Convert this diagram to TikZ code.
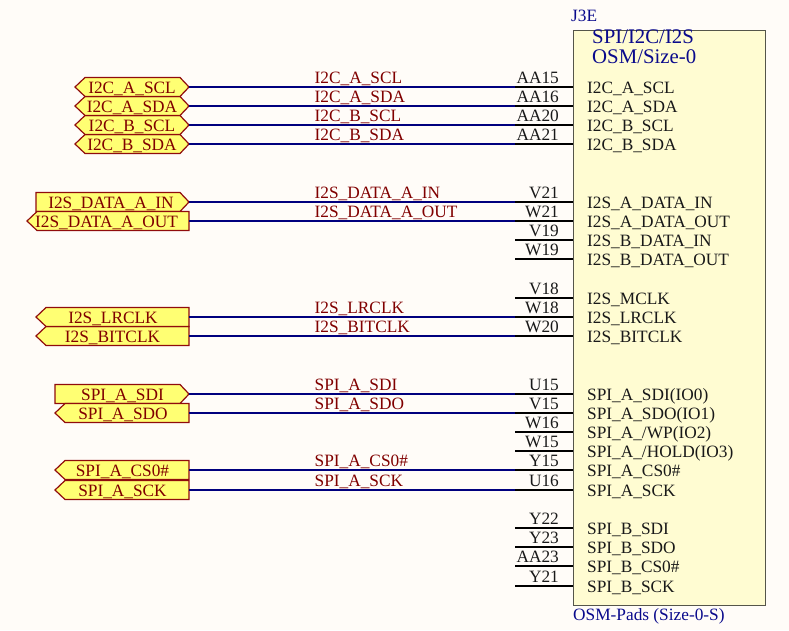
\documentclass[tikz,border=0pt]{standalone}
\usepackage{fontspec}
\setmainfont{Liberation Serif}
\definecolor{bgc}{HTML}{FFFCF8}
\definecolor{boxfill}{HTML}{FFFCD2}
\definecolor{boxline}{HTML}{55554A}
\definecolor{wirec}{HTML}{00007E}
\definecolor{netc}{HTML}{800000}
\definecolor{portfill}{HTML}{FFFF73}
\definecolor{portline}{HTML}{900C0C}
\definecolor{titlec}{HTML}{0A0A8C}
\tikzset{
  wire/.style={draw=wirec,line width=2pt},
  pinline/.style={draw=black,line width=2pt},
  netlabel/.style={text=netc,font=\fontsize{17.3}{17.3}\selectfont,anchor=base west,inner sep=0pt},
  pinnum/.style={text=black!90,font=\fontsize{17.3}{17.3}\selectfont,anchor=base east,inner sep=0pt},
  pinname/.style={text=black!90,font=\fontsize{17.3}{17.3}\selectfont,anchor=base west,inner sep=0pt},
  portshape/.style={draw=portline,fill=portfill,line width=1.2pt,line join=miter},
  porttext/.style={text=netc,font=\fontsize{17.3}{17.3}\selectfont,anchor=base,inner sep=0pt},
  titletext/.style={text=titlec,inner sep=0pt,anchor=base west},
}
% \pinrow{id}{y}{number}{pin name}
\newcommand{\pinrow}[4]{%
  \coordinate (pin#1) at (515,#2);
  \coordinate (body#1) at (573,#2);
  \draw[pinline] (pin#1) -- (body#1);
  \node[pinnum] (num#1) at (559,#2-4) {#3};
  \node[pinname] (name#1) at (587,#2+6.3) {#4};
}
% \netrow{id}{y}{label}{port left}{shape: 0 hex,1 flat-left tip-right,2 tip-left flat-right}{text x}
\newcommand{\netrow}[6]{%
  \coordinate (port#1) at (189,#2);
  \ifcase#5\relax
    \draw[portshape] (#4,#2) -- (#4+10,#2-9.5) -- (180,#2-9.5) -- (189,#2) -- (180,#2+9.5) -- (#4+10,#2+9.5) -- cycle;
  \or
    \draw[portshape] (#4,#2-9.5) -- (180,#2-9.5) -- (189,#2) -- (180,#2+9.5) -- (#4,#2+9.5) -- cycle;
  \or
    \draw[portshape] (#4,#2) -- (#4+10,#2-9.5) -- (189,#2-9.5) -- (189,#2+9.5) -- (#4+10,#2+9.5) -- cycle;
  \fi
  \node[porttext] (txt#1) at (#6,#2+6.3) {#3};
  \draw[wire] (port#1) -- (pin#1);
  \node[netlabel] (net#1) at (314.5,#2-4) {#3};
}
\begin{document}
\begin{tikzpicture}[x=1pt,y=-1pt]
\useasboundingbox (0,0) rectangle (789,630);
\fill[bgc] (0,0) rectangle (789,630);
\node[titletext,font=\fontsize{17.3}{17.3}\selectfont] (ref) at (571,21.5) {J3E};
\node[draw=boxline,fill=boxfill,line width=1.4pt,minimum width=192pt,minimum height=575pt,inner sep=0pt,anchor=north west] (body) at (573,29.5) {};
\node[titletext,font=\fontsize{20.8}{20.8}\selectfont] (t1) at (592,43.5) {SPI/I2C/I2S};
\node[titletext,font=\fontsize{20.8}{20.8}\selectfont] (t2) at (592,63) {OSM/Size-0};
\node[titletext,font=\fontsize{17.3}{17.3}\selectfont] (foot) at (573,620) {OSM-Pads (Size-0-S)};
\pinrow{a}{87}{AA15}{I2C\_A\_SCL}
\pinrow{b}{106}{AA16}{I2C\_A\_SDA}
\pinrow{c}{125}{AA20}{I2C\_B\_SCL}
\pinrow{d}{144}{AA21}{I2C\_B\_SDA}
\pinrow{e}{202}{V21}{I2S\_A\_DATA\_IN}
\pinrow{f}{221}{W21}{I2S\_A\_DATA\_OUT}
\pinrow{g}{240}{V19}{I2S\_B\_DATA\_IN}
\pinrow{h}{259}{W19}{I2S\_B\_DATA\_OUT}
\pinrow{i}{298}{V18}{I2S\_MCLK}
\pinrow{j}{317}{W18}{I2S\_LRCLK}
\pinrow{k}{336}{W20}{I2S\_BITCLK}
\pinrow{l}{394}{U15}{SPI\_A\_SDI(IO0)}
\pinrow{m}{413}{V15}{SPI\_A\_SDO(IO1)}
\pinrow{n}{432}{W16}{SPI\_A\_/WP(IO2)}
\pinrow{o}{451}{W15}{SPI\_A\_/HOLD(IO3)}
\pinrow{p}{470}{Y15}{SPI\_A\_CS0\#}
\pinrow{q}{490}{U16}{SPI\_A\_SCK}
\pinrow{r}{528}{Y22}{SPI\_B\_SDI}
\pinrow{s}{547}{Y23}{SPI\_B\_SDO}
\pinrow{t}{566}{AA23}{SPI\_B\_CS0\#}
\pinrow{u}{586}{Y21}{SPI\_B\_SCK}
\netrow{d}{144}{I2C\_B\_SDA}{75}{0}{132}
\netrow{c}{125}{I2C\_B\_SCL}{75}{0}{132}
\netrow{b}{106}{I2C\_A\_SDA}{75}{0}{132}
\netrow{a}{87}{I2C\_A\_SCL}{75}{0}{132}
\netrow{e}{202}{I2S\_DATA\_A\_IN}{36}{1}{111}
\netrow{f}{221}{I2S\_DATA\_A\_OUT}{27}{2}{106.5}
\netrow{k}{336}{I2S\_BITCLK}{36}{2}{112.5}
\netrow{j}{317}{I2S\_LRCLK}{36}{2}{113}
\netrow{l}{394}{SPI\_A\_SDI}{55}{1}{122.5}
\netrow{m}{413}{SPI\_A\_SDO}{55}{2}{123}
\netrow{q}{490}{SPI\_A\_SCK}{55}{2}{122.5}
\netrow{p}{470}{SPI\_A\_CS0\#}{55}{2}{122.5}
\end{tikzpicture}
\end{document}
